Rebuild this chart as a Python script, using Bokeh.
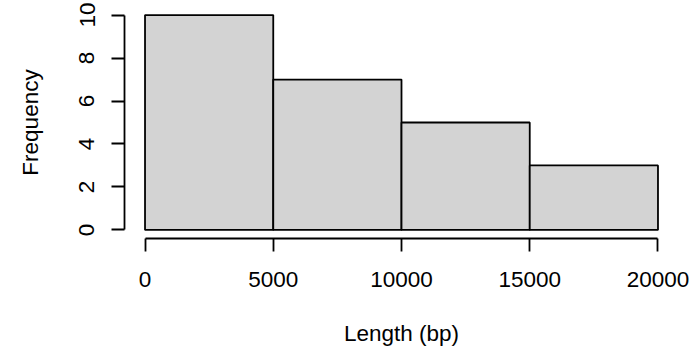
from bokeh.plotting import figure
from bokeh.models import Range1d, FixedTicker, ColumnDataSource
from bokeh.embed import file_html
from bokeh.resources import INLINE

# Histogram data
bin_left = [0, 5000, 10000, 15000]
bin_right = [5000, 10000, 15000, 20000]
counts = [10, 7, 5, 3]
x_ticks = [0, 5000, 10000, 15000, 20000]
y_ticks = [0, 2, 4, 6, 8, 10]
x_title = "Length (bp)"
y_title = "Frequency"

FONT = "Liberation Sans"
FS = "22.5px"

src = ColumnDataSource(dict(left=bin_left, right=bin_right, top=counts, bottom=[0] * len(counts)))

p = figure(width=698, height=354, output_backend="svg", toolbar_location=None,
           x_range=Range1d(-800, 20800), y_range=Range1d(-0.4, 10.4),
           min_border_left=124, min_border_right=20, min_border_top=6, min_border_bottom=116)
p.outline_line_color = None
p.background_fill_color = "white"
p.border_fill_color = "white"
p.grid.visible = False

p.quad(left="left", right="right", top="top", bottom="bottom", source=src,
       fill_color="#D3D3D3", line_color="black", line_width=1.8)

for ax, ticks, bounds in ((p.xaxis[0], x_ticks, (0, 20000)), (p.yaxis[0], y_ticks, (0, 10))):
    ax.ticker = FixedTicker(ticks=ticks)
    ax.bounds = bounds
    ax.axis_line_color = "black"
    ax.axis_line_width = 1.8
    ax.major_tick_line_color = "black"
    ax.major_tick_line_width = 1.8
    ax.major_tick_out = 13
    ax.major_tick_in = 0
    ax.minor_tick_out = 0
    ax.minor_tick_in = 0
    ax.major_label_text_font = FONT
    ax.major_label_text_font_size = FS
    ax.major_label_text_color = "black"
    ax.axis_label_text_font = FONT
    ax.axis_label_text_font_size = FS
    ax.axis_label_text_font_style = "normal"
    ax.axis_label_text_color = "black"

p.xaxis[0].axis_label = x_title
p.xaxis[0].major_label_standoff = 20
p.xaxis[0].axis_label_standoff = 31
p.yaxis[0].axis_label = y_title
p.yaxis[0].major_label_orientation = "vertical"
p.yaxis[0].major_label_standoff = 17
p.yaxis[0].axis_label_standoff = 34

open("out.html", "w").write(file_html(p, INLINE))
